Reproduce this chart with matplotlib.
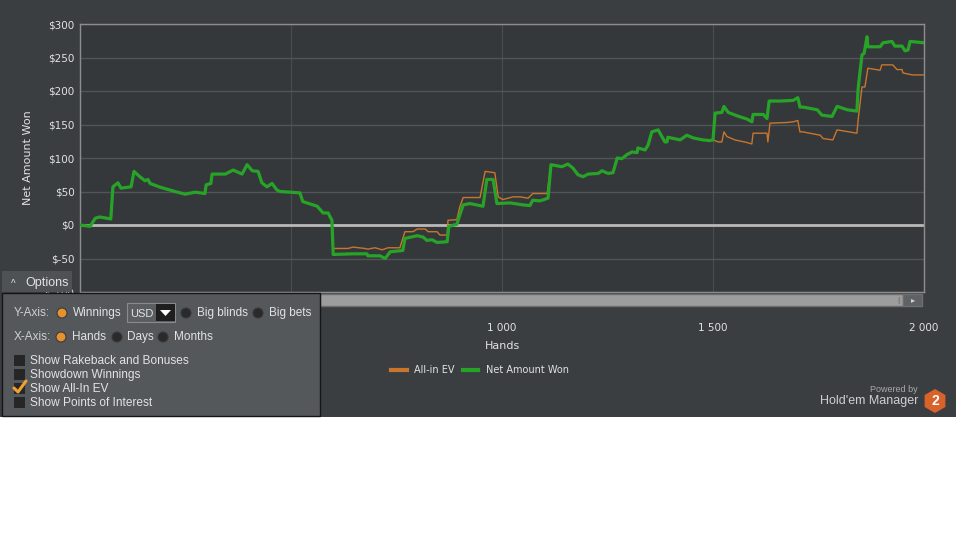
import matplotlib
matplotlib.use("Agg")
import matplotlib.pyplot as plt
import matplotlib.patches as patches
from matplotlib.lines import Line2D
import numpy as np

# Net amount won (hands, dollars)
won_hands = [0, 24, 36, 47, 73, 78, 90, 97, 121, 128, 142, 154, 161, 166, 192, 225, 249,
             273, 296, 299, 310, 313, 344, 363, 384, 396, 408, 422, 431, 443, 455, 467,
             474, 521, 528, 552, 562, 576, 588, 597, 600, 647, 680, 682, 711, 723, 735,
             765, 770, 799, 813, 822, 834, 846, 870, 874, 893, 900, 908, 924, 955, 964,
             979, 988, 1019, 1050, 1066, 1073, 1090, 1109, 1116, 1142, 1156, 1168, 1180,
             1192, 1204, 1228, 1237, 1251, 1263, 1273, 1284, 1296, 1308, 1320, 1322, 1339,
             1346, 1355, 1370, 1379, 1386, 1391, 1393, 1422, 1438, 1453, 1476, 1493, 1500,
             1505, 1521, 1526, 1536, 1557, 1581, 1592, 1595, 1619, 1628, 1633, 1659, 1690,
             1701, 1706, 1713, 1747, 1758, 1782, 1794, 1818, 1841, 1844, 1853, 1858, 1865,
             1867, 1896, 1903, 1924, 1931, 1948, 1955, 1962, 1967, 1983, 2000]
won_usd = [0, -2, 10, 12, 9, 57, 63, 55, 57, 80, 72, 66, 68, 62, 56, 50, 46,
           49, 47, 60, 62, 76, 76, 82, 76, 90, 81, 80, 63, 57, 62, 52,
           50, 48, 35, 30, 28, 18, 18, 7, -44, -43, -43, -46, -46, -50, -40,
           -38, -20, -16, -18, -23, -22, -26, -25, -2, 1, 15, 30, 32, 28, 68,
           68, 32, 33, 30, 29, 37, 36, 40, 90, 87, 91, 85, 75,
           72, 76, 77, 81, 77, 78, 100, 99, 105, 109, 108, 115, 112,
           119, 139, 142, 132, 124, 124, 131, 127, 134, 130, 127, 126, 127,
           167, 168, 177, 168, 163, 158, 154, 165, 165, 159, 185, 185, 186,
           190, 176, 176, 172, 164, 162, 177, 172, 170, 204, 254, 256, 281,
           266, 266, 272, 274, 267, 267, 260, 261, 274, 273, 272]

# All-in EV where it differs from the green line
ev_mid_hands = [600, 635, 647, 675, 682, 699, 716, 730, 758, 770, 789, 799, 818, 825,
                846, 853, 870, 872, 893, 900, 908, 948, 960, 983, 991, 1002, 1026, 1043,
                1062, 1073, 1107]
ev_mid_usd = [-35, -35, -33, -35, -36, -34, -37, -34, -34, -10, -10, -6, -6, -10,
              -10, -15, -15, 7, 8, 27, 41, 41, 80, 78, 42, 38, 42, 42,
              40, 47, 47]
ev_end_hands = [1512, 1521, 1526, 1533, 1552, 1581, 1592, 1595, 1628, 1630, 1635, 1675,
                1690, 1701, 1706, 1713, 1754, 1761, 1784, 1794, 1841, 1844, 1853, 1860,
                1867, 1896, 1900, 1926, 1936, 1948, 1950, 1972, 2000]
ev_end_usd = [124, 124, 139, 132, 127, 123, 121, 137, 137, 124, 152, 153,
              154, 156, 139, 139, 134, 129, 127, 142, 137, 157, 206, 206,
              234, 231, 239, 239, 232, 232, 227, 224, 224]

y_ticks = [-100, -50, 0, 50, 100, 150, 200, 250, 300]
x_ticks = [0, 500, 1000, 1500, 2000]
# the first two labels sit behind the options panel in the screenshot
x_labels = ["", "", "1 000", "1 500", "2 000"]

# build the EV series: same as net won outside the two all-in stretches
wh = np.array(won_hands)
wu = np.array(won_usd)
m1 = wh < 600
m2 = (wh >= 1116) & (wh <= 1500)
ev_hands = np.concatenate([wh[m1], ev_mid_hands, wh[m2], ev_end_hands])
ev_usd = np.concatenate([wu[m1], ev_mid_usd, wu[m2], ev_end_usd])

W, H = 960, 540
BG = "#3b3e41"
PLOT_BG = "#35383b"
TXT = "#e2e2e2"
UI_FONT = ["Liberation Sans", "DejaVu Sans"]

fig = plt.figure(figsize=(9.6, 5.4), dpi=100)
fig.patch.set_facecolor("white")


def fx(x):
    return x / W


def fy(y):
    return 1 - y / H


def box(x0, y0, x1, y1, **kw):
    r = patches.Rectangle((fx(x0), fy(y1)), (x1 - x0) / W, (y1 - y0) / H,
                          transform=fig.transFigure, **kw)
    fig.add_artist(r)
    return r


def txt(x, y, s, **kw):
    kw.setdefault("color", TXT)
    kw.setdefault("va", "center")
    kw.setdefault("fontsize", 8)
    kw.setdefault("family", UI_FONT)
    return fig.text(fx(x), fy(y), s, **kw)


# dark application panel
box(0, 0, 956, 417, facecolor=BG, edgecolor="none", zorder=-5)

ax = fig.add_axes([fx(80), fy(292), (924 - 80) / W, (292 - 24) / H])
ax.set_facecolor(PLOT_BG)
ax.plot(ev_hands, ev_usd, color="#c8762c", lw=1.0, label="All-in EV", zorder=3)
ax.plot(won_hands, won_usd, color="#27a327", lw=2.3, label="Net Amount Won", zorder=4)
ax.axhline(0, color="#b9b9b9", lw=2, zorder=2)
ax.set_xlim(0, 2000)
ax.set_ylim(-100, 300)
ax.set_yticks(y_ticks)
ax.set_yticklabels([f"${v}" for v in y_ticks])
ax.set_xticks(x_ticks)
ax.set_xticklabels(x_labels)
ax.grid(True, axis="y", color="#525558", lw=1)
ax.grid(True, axis="x", color="#4a4d50", lw=0.8)
ax.tick_params(length=0, labelsize=7.5, colors=TXT)
ax.tick_params(axis="x", pad=22)
ax.tick_params(axis="y", pad=4)
for side, sp in ax.spines.items():
    sp.set_color("#8d8d8d")
    sp.set_linewidth(1)
ax.set_ylabel("Net Amount Won", color=TXT, fontsize=8, labelpad=8)
ax.set_xlabel("Hands", color=TXT, fontsize=8, labelpad=6)

fig.legend(loc="center", bbox_to_anchor=(fx(480), fy(370)), ncol=2, frameon=False,
           fontsize=7, labelcolor=TXT, handlelength=1.6, handletextpad=0.8,
           columnspacing=0.8)
leg = fig.legends[0]
for h in leg.legend_handles:
    h.set_linewidth(3)

# scrollbar under the plot
box(320, 294, 903, 306, facecolor="#9d9d9d", edgecolor="#6e6e6e", lw=1, zorder=2)
box(903, 294, 922, 306, facecolor="#5f6264", edgecolor="#6e6e6e", lw=1, zorder=2)
txt(913, 300, "\u25b8", fontsize=6, ha="center", color="#d0d0d0", zorder=3,
    family="DejaVu Sans")
txt(899, 300, "||", fontsize=5, ha="center", color="#7a7a7a", zorder=3)

# options tab and panel
box(2, 271, 72, 292, facecolor="#4f5255", edgecolor="none", zorder=4)
txt(13, 284, "^", fontsize=7, ha="center", zorder=5)
txt(25, 283, "Options", fontsize=9, zorder=5)
box(2, 293, 320, 416, facecolor="#55585b", edgecolor="#151515", lw=1, zorder=4)

OPT = 8.5
txt(14, 313, "Y-Axis:", fontsize=OPT, color="#cfcfcf", zorder=5)
txt(14, 337, "X-Axis:", fontsize=OPT, color="#cfcfcf", zorder=5)


def radio(x, y, on):
    fc = "#e5922e" if on else "#2a2a2a"
    e = patches.Ellipse((fx(x), fy(y)), 10 / W, 10 / H, transform=fig.transFigure,
                        facecolor=fc, edgecolor="#3a3a3a", lw=0.8, zorder=5)
    fig.add_artist(e)


radio(62, 313, True)
txt(73, 313, "Winnings", fontsize=OPT, zorder=5)
box(127, 303, 175, 322, facecolor="#5b5e61", edgecolor="#8a8a8a", lw=0.8, zorder=5)
txt(130, 314, "USD", fontsize=8, zorder=6)
box(156, 304, 175, 321, facecolor="#1e1e1e", edgecolor="none", zorder=6)
arrow = patches.Polygon([(fx(160), fy(310)), (fx(171), fy(310)), (fx(165.5), fy(316))],
                        closed=True, transform=fig.transFigure, facecolor="white",
                        edgecolor="none", zorder=7)
fig.add_artist(arrow)
radio(186, 313, False)
txt(197, 313, "Big blinds", fontsize=OPT, zorder=5)
radio(258, 313, False)
txt(269, 313, "Big bets", fontsize=OPT, zorder=5)

radio(61, 337, True)
txt(72, 337, "Hands", fontsize=OPT, zorder=5)
radio(117, 337, False)
txt(127, 337, "Days", fontsize=OPT, zorder=5)
radio(163, 337, False)
txt(174, 337, "Months", fontsize=OPT, zorder=5)

checks = ["Show Rakeback and Bonuses", "Showdown Winnings", "Show All-In EV",
          "Show Points of Interest"]
for i, label in enumerate(checks):
    y = 360 + 14 * i
    box(14, y - 5, 25, y + 6, facecolor="#262626", edgecolor="none", zorder=5)
    txt(30, y + 1, label, fontsize=8.6, zorder=5)
    if label == "Show All-In EV":
        fig.add_artist(Line2D([fx(14), fx(18), fx(26)], [fy(y), fy(y + 4), fy(y - 7)],
                              transform=fig.transFigure, color="#f0a030", lw=2.2,
                              solid_capstyle="round", zorder=6))

# powered by logo
txt(918, 390, "Powered by", fontsize=6.5, ha="right", color="#a8a8a8")
txt(918, 401, "Hold'em Manager", fontsize=9, ha="right", color="#cfcfcf")
ang = np.deg2rad(np.arange(6) * 60 + 90)
hexa = patches.Polygon([(fx(935 + 12 * np.cos(a)), fy(401 - 12 * np.sin(a))) for a in ang],
                       closed=True, transform=fig.transFigure, facecolor="#d9622b",
                       edgecolor="none")
fig.add_artist(hexa)
txt(935, 401, "2", fontsize=10, ha="center", color="white", fontweight="bold")

fig.savefig("out.png", dpi=100, facecolor=fig.get_facecolor())
